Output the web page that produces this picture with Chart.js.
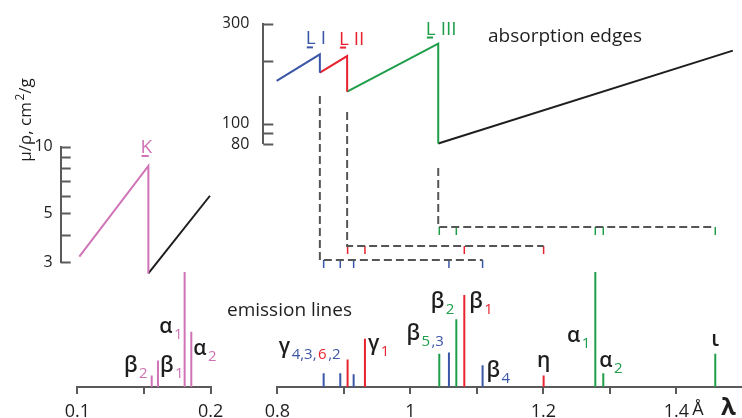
<!DOCTYPE html>
<html>
<head>
<meta charset="utf-8">
<script src="https://cdn.jsdelivr.net/npm/chart.js@4.4.1/dist/chart.umd.min.js"></script>
<style>
  html, body { margin: 0; padding: 0; background: #fff; }
  #wrap { position: relative; width: 742px; height: 418px; overflow: hidden; }
  #wrap canvas { position: absolute; left: 0; top: 0; }
</style>
</head>
<body>
<div id="wrap">
  <canvas id="absK" width="742" height="418"></canvas>
  <canvas id="absL" width="742" height="418"></canvas>
  <canvas id="conn" width="742" height="418"></canvas>
  <canvas id="emK" width="742" height="418"></canvas>
  <canvas id="emL" width="742" height="418"></canvas>
</div>
<script>
// ---- data (wavelength in Å, mass attenuation μ/ρ in cm2/g, relative line intensity) ----

// absorption curve around the K edge
const kPinkLambda = [0.1015, 0.1533, 0.1533];
const kPinkMu = [3.18, 8.18, 2.67];
const kTailLambda = [0.1533, 0.1995];
const kTailMu = [2.67, 6.0];

// absorption curve around the L edges
const edgeNames = ['L I', 'L II', 'L III'];
const edgeLambda = [0.864, 0.905, 1.042];
const lBlueLambda = [0.799, 0.864, 0.864];
const lBlueMu = [160, 214, 175];
const lRedLambda = [0.864, 0.905, 0.905];
const lRedMu = [175, 210, 142];
const lGreenLambda = [0.905, 1.042, 1.042];
const lGreenMu = [142, 241, 80.5];
const lTailLambda = [1.042, 1.485];
const lTailMu = [80.5, 223];

// K emission lines
const kLineNames = ['β2', 'β1', 'α1', 'α2'];
const kLineLambda = [0.1558, 0.1605, 0.1805, 0.1855];
const kLineInt = [10, 23, 100, 48];

// L emission lines, grouped by the level they come from
const l1Names = ['γ4', 'γ3', 'γ2', 'β3', 'β4'];
const l1Lambda = [0.8697, 0.8947, 0.9148, 1.0581, 1.1087];
const l1Int = [12, 12, 11, 30, 19];
const l2Names = ['γ6', 'γ1', 'β1', 'η'];
const l2Lambda = [0.9057, 0.9318, 1.0812, 1.2005];
const l2Int = [24, 42, 80, 10];
const l3Names = ['β5', 'β2', 'α1', 'α2', 'ι'];
const l3Lambda = [1.0436, 1.0692, 1.2782, 1.2902, 1.4586];
const l3Int = [29, 59, 100, 12, 29];

// axis ticks
const kTicks = [0.1, 0.15, 0.2];
const kTickLabels = ['0.1', '', '0.2'];
const lTicks = [0.8, 0.9, 1.0, 1.1, 1.2, 1.3, 1.4];
const lTickLabels = ['0.8', '', '1', '', '1.2', '', '1.4'];
const kMuTicks = [3, 4, 5, 6, 7, 8, 9, 10];
const kMuLabels = ['3', '', '5', '', '', '', '', '10'];
const lMuTicks = [80, 90, 100, 200, 300];
const lMuLabels = ['80', '', '100', '', '300'];

// ---- style ----
const FONT = '"Open Sans", "DejaVu Sans", sans-serif';
const BLUE = '#3b56a6', RED = '#e8232f', GREEN = '#1f9e4a', PINK = '#cf73b6';
const INK = '#1e1e1e', AXIS = '#5a5a5a', DASH = '#555';
const W = 742, H = 418;

Chart.defaults.font.family = FONT;
Chart.defaults.color = INK;

// the two wavelength axes: pixel of a reference value and pixels per Å
const lMap = { ref: 0.8, px: 277.3, scale: 665 };
const kMap = { ref: 0.1, px: 77.3, scale: 1333.3 };
function lamRange(map, left, right) {
    return { min: map.ref - (map.px - left) / map.scale, max: map.ref + (right - map.px) / map.scale };
}

function seg(lams, vals, color) {
    return {
        data: lams.map((x, i) => ({ x: x, y: vals[i] })),
        borderColor: color, borderWidth: 2, pointRadius: 0, tension: 0, clip: false
    };
}
function sticks(lams, vals, color) {
    let d = [];
    lams.forEach((x, i) => { d.push({ x: x, y: 0 }, { x: x, y: vals[i] }, { x: x, y: null }); });
    return { data: d, borderColor: color, borderWidth: 2, pointRadius: 0, spanGaps: false };
}

// small ticks pointing into the plot from the y axis
const innerTicks = {
    id: 'innerTicks',
    afterDraw(chart, args, opts) {
        if (!opts.length) return;
        const s = chart.scales.y, ctx = chart.ctx;
        ctx.save();
        ctx.strokeStyle = opts.color; ctx.lineWidth = opts.width;
        s.ticks.forEach(t => {
            const y = Math.round(s.getPixelForValue(t.value)) + 0.5;
            ctx.beginPath(); ctx.moveTo(s.right, y); ctx.lineTo(s.right + opts.length, y); ctx.stroke();
        });
        ctx.restore();
    }
};

// text with coloured sub/superscripts
const richText = {
    id: 'richText',
    afterDatasetsDraw(chart, args, opts) {
        const ctx = chart.ctx, xs = chart.scales.x, ys = chart.scales.y;
        (opts.items || []).forEach(it => {
            const size = it.size || 21;
            const x = (it.x != null ? xs.getPixelForValue(it.x) : it.px) + (it.dx || 0);
            const y = (it.y != null ? ys.getPixelForValue(it.y) : it.py) + (it.dy || 0);
            const runs = it.parts.map(([text, color, kind]) => {
                const s = kind === 'm' ? size : Math.round(size * 0.72);
                const font = (kind === 'm' ? (it.weight || 'normal') : 'normal') + ' ' + s + 'px ' + FONT;
                ctx.font = font;
                return {
                    text, color, font,
                    w: ctx.measureText(text).width,
                    off: kind === 's' ? (it.subOff != null ? it.subOff : 6) : kind === 'p' ? -7 : 0,
                    gap: kind === 'm' ? 0 : 1.5
                };
            });
            const total = runs.reduce((a, r) => a + r.w + r.gap, 0);
            ctx.save();
            ctx.translate(x, y);
            if (it.rot) ctx.rotate(it.rot);
            ctx.textAlign = 'left'; ctx.textBaseline = 'alphabetic';
            let cx = it.align === 'right' ? -total : it.align === 'center' ? -total / 2 : 0;
            runs.forEach((r, i) => {
                cx += r.gap;
                ctx.font = r.font; ctx.fillStyle = r.color;
                ctx.fillText(r.text, cx, r.off);
                if (it.underline && i === 0) ctx.fillRect(cx + 1, 2, r.w * 0.62, 2);
                cx += r.w;
            });
            ctx.restore();
        });
    }
};

function baseOptions(pad) {
    return {
        responsive: false, animation: false, events: [], devicePixelRatio: 1,
        layout: { padding: pad },
        plugins: { legend: { display: false }, tooltip: { enabled: false } }
    };
}

// ---------- K absorption (left, log scale) ----------
{
    const left = 60.7, right = 215, top = 146.7, bottom = 262.3, yw = 40;
    const r = lamRange(kMap, left, right);
    const o = baseOptions({ left: left - yw, top: top, right: W - right, bottom: H - bottom });
    o.scales = {
        x: { type: 'linear', display: false, min: r.min, max: r.max },
        y: {
            type: 'logarithmic', min: 3, max: 10,
            afterFit: s => { s.width = yw; },
            afterBuildTicks: s => { s.ticks = kMuTicks.map(v => ({ value: v })); },
            ticks: { autoSkip: false, padding: 8, font: { size: 16 }, color: INK,
                     callback: (v, i) => kMuLabels[i] },
            grid: { drawOnChartArea: false, drawTicks: false },
            border: { color: AXIS, width: 2 }
        }
    };
    o.plugins.innerTicks = { length: 10, color: AXIS, width: 2 };
    o.plugins.richText = { items: [
        { x: kPinkLambda[1], y: kPinkMu[1], dx: -2, dy: -13, align: 'center', size: 19, underline: true,
          parts: [['K', PINK, 'm']] },
        { px: 31, py: 120, rot: -Math.PI / 2, align: 'center', size: 17,
          parts: [['μ/ρ, cm', INK, 'm'], ['2', INK, 'p'], ['/g', INK, 'm']] }
    ] };
    new Chart(document.getElementById('absK'), {
        type: 'line',
        data: { datasets: [seg(kPinkLambda, kPinkMu, PINK), seg(kTailLambda, kTailMu, INK)] },
        options: o,
        plugins: [innerTicks, richText]
    });
}

// ---------- L absorption (top, log scale) ----------
{
    const left = 263.3, right = 742, top = 16.5, bottom = 144, yw = 40;
    const r = lamRange(lMap, left, right);
    const o = baseOptions({ left: left - yw, top: top, right: W - right, bottom: H - bottom });
    o.scales = {
        x: { type: 'linear', display: false, min: r.min, max: r.max },
        y: {
            type: 'logarithmic', min: 80, max: 300,
            afterFit: s => { s.width = yw; },
            afterBuildTicks: s => { s.ticks = lMuTicks.map(v => ({ value: v })); },
            ticks: { autoSkip: false, padding: 14, font: { size: 16 }, color: INK,
                     callback: (v, i) => lMuLabels[i] },
            grid: { drawOnChartArea: false, drawTicks: false },
            border: { color: AXIS, width: 2 }
        }
    };
    o.plugins.innerTicks = { length: 10, color: AXIS, width: 2 };
    const peaks = [lBlueMu[1], lRedMu[1], lGreenMu[1]];
    const cols = [BLUE, RED, GREEN];
    const shift = [[-4, -10], [4.5, -11.5], [3, -9]];
    o.plugins.richText = { items: edgeNames.map((n, i) => ({
        x: edgeLambda[i], y: peaks[i], dx: shift[i][0], dy: shift[i][1], align: 'center', size: 19,
        weight: '500', underline: true, parts: [['L', cols[i], 'm'], [n.slice(1), cols[i], 'm']]
    })) };
    new Chart(document.getElementById('absL'), {
        type: 'line',
        data: { datasets: [
            seg(lBlueLambda, lBlueMu, BLUE), seg(lRedLambda, lRedMu, RED),
            seg(lGreenLambda, lGreenMu, GREEN), seg(lTailLambda, lTailMu, INK)
        ] },
        options: o,
        plugins: [innerTicks, richText]
    });
}

// ---------- dashed links from each L edge to its emission lines ----------
{
    const left = 277.3, right = 742, top = 90, bottom = 270;
    const r = lamRange(lMap, left, right);
    // schematic levels (in this hidden axis): start of the drop, the run, the foot of the ticks
    const levels = [[174, 10, 2], [158, 24, 16], [102, 43, 35]];
    const groups = [l1Lambda, l2Lambda, l3Lambda];
    const cols = [BLUE, RED, GREEN];
    const ds = [];
    groups.forEach((lams, i) => {
        const [y0, y1, y2] = levels[i];
        ds.push({
            data: [{ x: edgeLambda[i], y: y0 }, { x: edgeLambda[i], y: y1 }, { x: Math.max(...lams), y: y1 }],
            borderColor: DASH, borderWidth: 2, borderDash: [8, 4], pointRadius: 0, tension: 0
        });
        const d = [];
        lams.forEach(x => { d.push({ x: x, y: y1 }, { x: x, y: y2 }, { x: x, y: null }); });
        ds.push({ data: d, borderColor: cols[i], borderWidth: 1.5, pointRadius: 0, spanGaps: false });
    });
    const o = baseOptions({ left: left, top: top, right: W - right, bottom: H - bottom });
    o.scales = {
        x: { type: 'linear', display: false, min: r.min, max: r.max },
        y: { type: 'linear', display: false, min: 0, max: 180 }
    };
    new Chart(document.getElementById('conn'), { type: 'line', data: { datasets: ds }, options: o });
}

// ---------- emission lines ----------
function emissionChart(id, map, left, right, ticks, tickLabels, datasets, items) {
    const top = 272, bottom = 387, xh = 31;
    const r = lamRange(map, left, right);
    const o = baseOptions({ left: left, top: top, right: W - right, bottom: H - bottom - xh });
    o.scales = {
        x: {
            type: 'linear', min: r.min, max: r.max,
            afterFit: s => { s.height = xh; },
            afterBuildTicks: s => { s.ticks = ticks.map(v => ({ value: v })); },
            ticks: { autoSkip: false, maxRotation: 0, padding: 7, font: { size: 18 }, color: INK,
                     callback: (v, i) => tickLabels[i] },
            grid: { drawOnChartArea: false, drawTicks: true, tickLength: 7, color: AXIS, lineWidth: 2 },
            border: { color: AXIS, width: 2 }
        },
        y: { type: 'linear', display: false, min: 0, max: 100 }
    };
    o.plugins.richText = { items: items };
    new Chart(document.getElementById(id), {
        type: 'line', data: { datasets: datasets }, options: o, plugins: [richText]
    });
}

const G = '600';
emissionChart('emK', kMap, 77.3, 210.7, kTicks, kTickLabels,
    [sticks(kLineLambda, kLineInt, PINK)],
    [
        { x: kLineLambda[0], y: 13, dx: -4, align: 'right', weight: G, parts: [['β', INK, 'm'], ['2', PINK, 's']] },
        { x: kLineLambda[1], y: 13, dx: 2, align: 'left', weight: G, parts: [['β', INK, 'm'], ['1', PINK, 's']] },
        { x: kLineLambda[2], y: 47, dx: -2, align: 'right', weight: G, parts: [['α', INK, 'm'], ['1', PINK, 's']] },
        { x: kLineLambda[3], y: 28, dx: 2, align: 'left', weight: G, parts: [['α', INK, 'm'], ['2', PINK, 's']] }
    ]);

emissionChart('emL', lMap, 277.3, 742, lTicks, lTickLabels,
    [sticks(l1Lambda, l1Int, BLUE), sticks(l2Lambda, l2Int, RED), sticks(l3Lambda, l3Int, GREEN)],
    [
        { x: l2Lambda[0], y: 30, dx: -7, align: 'right', weight: G,
          parts: [['γ', INK, 'm'], ['4,3,', BLUE, 's'], ['6', RED, 's'], [',2', BLUE, 's']] },
        { x: l2Lambda[1], y: 32, dx: 3, align: 'left', weight: G, parts: [['γ', INK, 'm'], ['1', RED, 's']] },
        { x: l1Lambda[3], y: 41, dx: -5, align: 'right', weight: G,
          parts: [['β', INK, 'm'], ['5', GREEN, 's'], [',3', BLUE, 's']] },
        { x: l3Lambda[1], y: 69, dx: -2, align: 'right', weight: G, parts: [['β', INK, 'm'], ['2', GREEN, 's']] },
        { x: l2Lambda[2], y: 69, dx: 5, align: 'left', weight: G, parts: [['β', INK, 'm'], ['1', RED, 's']] },
        { x: l1Lambda[4], y: 9, dx: 4, align: 'left', weight: G, parts: [['β', INK, 'm'], ['4', BLUE, 's']] },
        { x: l2Lambda[3], y: 17, align: 'center', weight: G, parts: [['η', INK, 'm']] },
        { x: l3Lambda[2], y: 39, dx: -5, align: 'right', weight: G, parts: [['α', INK, 'm'], ['1', GREEN, 's']] },
        { x: l3Lambda[3], y: 17, dx: -4, align: 'left', weight: G, parts: [['α', INK, 'm'], ['2', GREEN, 's']] },
        { x: l3Lambda[4], y: 36, align: 'center', weight: G, parts: [['ι', INK, 'm']] },
        { px: 488, py: 42, size: 19, parts: [['absorption edges', INK, 'm']] },
        { px: 227, py: 316, size: 19, parts: [['emission lines', INK, 'm']] },
        { x: 1.4, dx: 16, py: 415, size: 18, parts: [['Å', INK, 'm']] },
        { px: 721, py: 415, size: 24, weight: 'bold', parts: [['λ', INK, 'm']] }
    ]);
</script>
</body>
</html>
